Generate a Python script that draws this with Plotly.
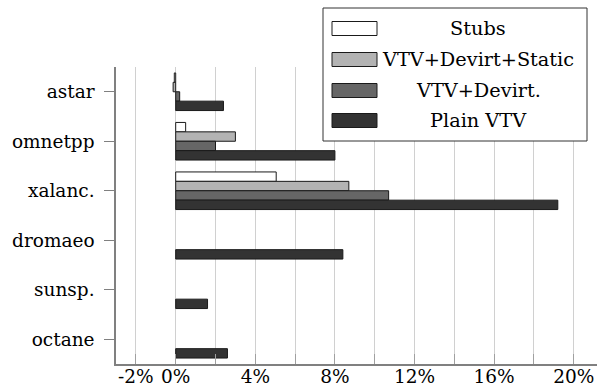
import plotly.graph_objects as go

# Benchmarks (top to bottom) and overhead per configuration, in percent
benchmarks = ["astar", "omnetpp", "xalanc.", "dromaeo", "sunsp.", "octane"]
series_names = ["Stubs", "VTV+Devirt+Static", "VTV+Devirt.", "Plain VTV"]
stubs = [-0.07, 0.5, 5.05, None, None, None]
vtv_devirt_static = [-0.13, 3.0, 8.7, None, None, None]
vtv_devirt = [0.2, 2.0, 10.7, None, None, None]
plain_vtv = [2.4, 8.0, 19.2, 8.4, 1.6, 2.6]

tick_vals = [-2, 0, 2, 4, 6, 8, 10, 12, 14, 16, 18, 20]
tick_text = ["-2%", "0%", "", "4%", "", "8%", "", "12%", "", "16%", "", "20%"]

fills = ["#ffffff", "#b3b3b3", "#666666", "#333333"]
series_values = [stubs, vtv_devirt_static, vtv_devirt, plain_vtv]

W, H = 597, 392
ML, MR, MT, MB = 116, 0, 67, 28
PW, PH = W - ML - MR, H - MT - MB

FONT = "'DejaVu Serif'"

fig = go.Figure()
for name, vals, col in zip(series_names, series_values, fills):
    fig.add_trace(go.Bar(
        y=benchmarks, x=vals, name=name, orientation="h",
        marker=dict(color=col, line=dict(color="#1a1a1a", width=1)),
        showlegend=False,
    ))


def px_x(px):
    return (px - ML) / PW


def px_y(py):
    return (H - MB - py) / PH


# Legend box drawn with shapes and text
shapes = [dict(type="rect", xref="paper", yref="paper",
               x0=px_x(323), x1=px_x(587), y0=px_y(141), y1=px_y(8),
               fillcolor="white", line=dict(color="#333333", width=1))]
annotations = []
row_centers = [28.5, 59.5, 90.5, 120.5]
for name, col, cy in zip(series_names, fills, row_centers):
    shapes.append(dict(type="rect", xref="paper", yref="paper",
                       x0=px_x(332), x1=px_x(377),
                       y0=px_y(cy + 7), y1=px_y(cy - 7),
                       fillcolor=col, line=dict(color="#1a1a1a", width=1)))
    annotations.append(dict(xref="paper", yref="paper", x=px_x(478), y=px_y(cy),
                            text=name, showarrow=False, xanchor="center",
                            yanchor="middle",
                            font=dict(family=FONT, size=19.3, color="black")))

fig.update_layout(
    width=W, height=H,
    margin=dict(l=ML, r=MR, t=MT, b=MB, pad=0),
    plot_bgcolor="white", paper_bgcolor="white",
    barmode="group", bargap=0.24, bargroupgap=0,
    font=dict(family=FONT, size=18.5, color="black"),
    shapes=shapes, annotations=annotations,
    xaxis=dict(
        range=[-3, 21.17], tickvals=tick_vals, ticktext=tick_text,
        showgrid=True, gridcolor="#d0d0d0", gridwidth=1, zeroline=False,
        showline=True, linecolor="#808080", linewidth=1.5,
        ticks="inside", ticklen=10, tickcolor="#a0a0a0", tickwidth=1,
        ticklabelstandoff=-5,
        tickfont=dict(family=FONT, size=18.5, color="black"),
    ),
    yaxis=dict(
        autorange="reversed", showgrid=False, zeroline=False,
        showline=True, linecolor="#808080", linewidth=1.5,
        ticks="outside", ticklen=10, tickcolor="#808080", tickwidth=1,
        ticklabelstandoff=6,
        tickfont=dict(family=FONT, size=18.5, color="black"),
    ),
)

fig.write_html("out.html")
